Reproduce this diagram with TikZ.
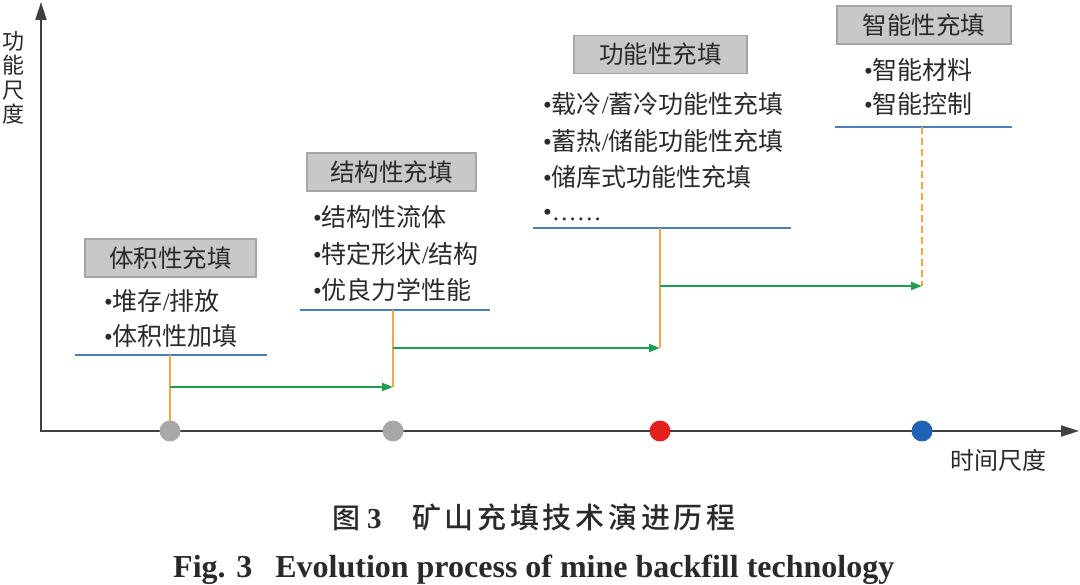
\documentclass[tikz,border=0pt]{standalone}
\usepackage{fontspec}
\newfontfamily\cjk{Noto Sans CJK SC}
\newfontfamily\cjkcap{Noto Sans CJK SC}[UprightFont=* Medium]
\newfontfamily\tnr{Liberation Serif}
\usetikzlibrary{arrows.meta}
\definecolor{boxfill}{HTML}{C8C8C8}
\definecolor{boxline}{HTML}{A6A6A6}
\definecolor{bluel}{HTML}{4A7EBB}
\definecolor{orangel}{HTML}{F0A844}
\definecolor{greenl}{HTML}{1E9E50}
\definecolor{axisc}{HTML}{404040}
\definecolor{dotgray}{HTML}{A8A8A8}
\definecolor{dotred}{HTML}{E3201E}
\definecolor{dotblue}{HTML}{1F63B5}
\definecolor{txt}{HTML}{2A2A2A}
\newcommand{\bul}{{\tnr •}}
\newcommand{\sla}{{\tnr /}}
\begin{document}
\begin{tikzpicture}[x=1pt,y=-1pt,
  titlebox/.style={fill=boxfill,draw=boxline,line width=1.2pt,minimum height=38pt,inner sep=0pt,
    font=\cjk\fontsize{24.5}{28}\selectfont,text=txt,text height=20.5pt,text depth=2pt},
  item/.style={anchor=west,inner sep=0pt,font=\cjk\fontsize{25}{28}\selectfont,text=txt,
    text height=21pt,text depth=2pt},
  level/.style={draw=bluel,line width=2.4pt},
  stem/.style={draw=orangel,line width=2.2pt},
  flow/.style={draw=greenl,line width=2.2pt,-{Triangle[length=11pt,width=8pt]}},
  dotnode/.style={circle,minimum size=21pt,inner sep=0pt},
  axisline/.style={draw=axisc,line width=2pt},
]
\useasboundingbox (0,0) rectangle (1080,585);

% axes
\coordinate (ytip) at (41,2);
\coordinate (origin) at (41,431);
\coordinate (xtip) at (1079,431);
\draw[axisline,{Triangle[length=18pt,width=11pt]}-{Triangle[length=18pt,width=11pt]}]
  (ytip) -- (origin) -- (xtip);
\node[font=\cjk\fontsize{22}{24.5}\selectfont,text=txt,align=center,inner sep=0pt] (ylab) at (13,78) {功\\能\\尺\\度};
\node[font=\cjk\fontsize{24}{26}\selectfont,text=txt,inner sep=0pt] (xlab) at (998,460) {时间尺度};

% stage coordinates
\coordinate (l1a) at (75,355);  \coordinate (l1b) at (267,355);
\coordinate (l2a) at (300,310); \coordinate (l2b) at (490,310);
\coordinate (l3a) at (533,228); \coordinate (l3b) at (791,228);
\coordinate (l4a) at (835,127); \coordinate (l4b) at (1012,127);
\coordinate (s1) at (170,355);
\coordinate (s2) at (393,310);
\coordinate (s3) at (660,228);
\coordinate (s4) at (922,127);
\coordinate (f1a) at (170,387); \coordinate (f1b) at (393,387);
\coordinate (f2a) at (393,348); \coordinate (f2b) at (660,348);
\coordinate (f3a) at (660,286); \coordinate (f3b) at (922,286);

\node[dotnode] (d1) at (170,431) {};

% level lines
\draw[level] (l1a) -- (l1b);
\draw[level] (l2a) -- (l2b);
\draw[level] (l3a) -- (l3b);
\draw[level] (l4a) -- (l4b);

% stems
\draw[stem] (s1) -- (d1.center);
\draw[stem] (s2) -- (f1b);
\draw[stem] (s3) -- (f2b);
\draw[stem,dash pattern=on 7pt off 4pt,line width=1.6pt] (s4) -- (f3b);

% flows
\draw[flow] (f1a) -- (f1b);
\draw[flow] (f2a) -- (f2b);
\draw[flow] (f3a) -- (f3b);

% dots
\fill[dotgray] (d1) circle (10.5pt);
\node[dotnode,fill=dotgray] (d2) at (393,431) {};
\node[dotnode,fill=dotred] (d3) at (660,431) {};
\node[dotnode,fill=dotblue] (d4) at (922,431) {};

% title boxes
\node[titlebox,minimum width=171pt] (b1) at (170.5,258) {体积性充填};
\node[titlebox,minimum width=169pt] (b2) at (391.5,172) {结构性充填};
\node[titlebox,minimum width=173pt] (b3) at (660.5,54.5) {功能性充填};
\node[titlebox,minimum width=174pt] (b4) at (924,25) {智能性充填};

% items
\node[item] (i11) at (104,301) {\bul 堆存\sla 排放};
\node[item] (i12) at (104,336) {\bul 体积性加填};
\node[item] (i21) at (313,217) {\bul 结构性流体};
\node[item] (i22) at (313,254) {\bul 特定形状\sla 结构};
\node[item] (i23) at (313,290) {\bul 优良力学性能};
\node[item] (i31) at (543,104) {\bul 载冷\sla 蓄冷功能性充填};
\node[item] (i32) at (543,141) {\bul 蓄热\sla 储能功能性充填};
\node[item] (i33) at (543,177) {\bul 储库式功能性充填};
\node[item] (i34) at (543,211) {\bul{\tnr ……}};
\node[item] (i41) at (864,70) {\bul 智能材料};
\node[item] (i42) at (864,104) {\bul 智能控制};

% caption
\node[anchor=base west,inner sep=0pt,font=\cjkcap\fontsize{28}{32}\selectfont,text=txt] (c1) at (332,529) {图};
\node[anchor=base west,inner sep=0pt,font=\tnr\bfseries\fontsize{29}{32}\selectfont,text=txt] (c2) at (367,529) {3};
\node[anchor=base west,inner sep=0pt,font=\cjkcap\fontsize{29}{32}\selectfont,text=txt] (c3) at (412,529)
  {矿\kern3.7pt 山\kern3.7pt 充\kern3.7pt 填\kern3.7pt 技\kern3.7pt 术\kern3.7pt 演\kern3.7pt 进\kern3.7pt 历\kern3.7pt 程};
\node[anchor=base west,inner sep=0pt,font=\tnr\bfseries\fontsize{32}{34}\selectfont,text=txt] (c4) at (173,577)
  {Fig. 3\hspace{23pt}Evolution process of mine backfill technology};
\end{tikzpicture}
\end{document}
